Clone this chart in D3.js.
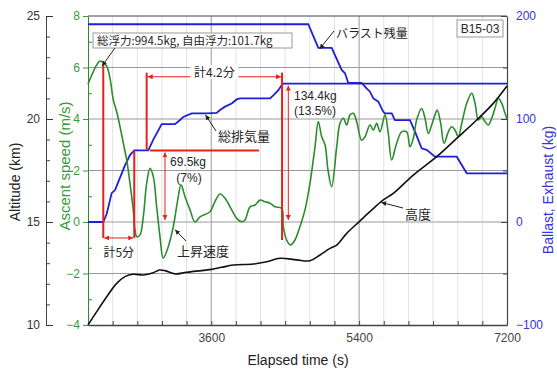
<!DOCTYPE html>
<html>
<head>
<meta charset="utf-8">
<script src="https://cdn.jsdelivr.net/npm/d3@7"></script>
<style>
  body { margin: 0; background: #fff; }
  svg { font-family: Arial, "Liberation Sans", "Noto Sans CJK JP", sans-serif; }
  .jp { font-family: "Noto Sans CJK JP", sans-serif; }
</style>
</head>
<body>
<svg id="chart" width="557" height="369"></svg>
<script>
// Données (B15-03)
const speedTime = [2100, 2145, 2206, 2246, 2286, 2328, 2368, 2408, 2449, 2490, 2530, 2571, 2611, 2651, 2672, 2693,
  2733, 2773, 2814, 2855, 2895, 2936, 2976, 3016, 3077, 3138, 3192, 3232, 3281, 3342, 3402, 3463, 3585, 3646,
  3707, 3768, 3849, 3910, 3971, 4011, 4072, 4133, 4194, 4254, 4315, 4376, 4458, 4477, 4518, 4567, 4619, 4680,
  4741, 4802, 4863, 4903, 4945, 4985, 5022, 5066, 5127, 5167, 5208, 5249, 5289, 5329, 5370, 5430, 5471, 5532,
  5573, 5614, 5654, 5715, 5755, 5796, 5857, 5918, 5979, 6019, 6060, 6100, 6161, 6202, 6242, 6283, 6323, 6351,
  6393, 6433, 6486, 6526, 6567, 6607, 6649, 6710, 6770, 6811, 6851, 6892, 6932, 6973, 7014, 7054, 7095, 7136,
  7176, 7200];
const speedValue = [5.35, 5.7, 6.1, 6.25, 6.19, 6.05, 5.58, 4.74, 4.28, 3.7, 3.06, 2.41, 1.5, 0.47, -0.31, -0.57,
  -0.5, 0.2, 1.5, 2.09, 1.76, 0.59, -0.57, -1.4, -0.96, -0.18, 0.85, 1.44, 0.98, 0.47, 0.0, 0.2, 0.4, 0.8,
  1.09, 0.92, 0.47, 0.14, 0.01, 0.08, 0.59, 0.66, 0.85, 0.79, 0.73, 0.59, 0.53, -0.18, -0.7, -0.89, -0.7, -0.18,
  0.47, 1.5, 2.92, 3.9, 3.31, 3.0, 2.0, 1.37, 2.92, 3.83, 4.03, 3.77, 4.16, 4.22, 3.9, 3.18, 3.31, 3.77,
  3.57, 3.83, 3.5, 4.16, 3.44, 2.41, 3.06, 3.5, 3.5, 2.92, 3.25, 3.96, 4.41, 4.03, 3.44, 3.77, 4.16, 4.35,
  3.83, 3.06, 3.5, 3.7, 3.57, 3.31, 3.83, 4.61, 5.0, 4.61, 3.96, 4.09, 3.9, 3.77, 4.03, 4.42, 4.8, 4.61,
  4.22, 4.0];

const altTime = [2100, 2206, 2328, 2449, 2550, 2651, 2773, 2895, 2968, 3037, 3159, 3301, 3606, 3727, 3869, 4112,
  4275, 4437, 4640, 4802, 4924, 5046, 5127, 5249, 5399, 5532, 5694, 5816, 6060, 6344, 6588, 6831, 7033, 7200];
const altValue = [10.0, 10.65, 11.37, 12.02, 12.35, 12.46, 12.43, 12.54, 12.67, 12.64, 12.48, 12.56, 12.7, 12.8,
  12.91, 12.96, 13.07, 13.24, 13.16, 13.12, 13.4, 13.72, 13.88, 14.45, 15.01, 15.5, 16.07, 16.39, 17.28, 18.17,
  19.06, 19.95, 20.76, 21.6];

const ballastTime = [2100, 4781, 4903, 5066, 5188, 5228, 5268, 5430, 5491, 5532, 5573, 5634, 5694, 5715, 5797,
  5836, 6019, 6080, 6161, 6222, 6323, 6588, 6710, 7200];
const ballastValue = [192, 192, 169, 169, 147.6, 144.4, 135, 135, 129.8, 126.5, 120, 116.8, 107, 105.5, 105.5,
  99, 99, 87.7, 71.5, 70, 63.4, 63.4, 47.3, 47.3];

const exhaustTime = [2100, 2286, 2328, 2388, 2429, 2469, 2550, 2611, 2663, 2834, 2895, 2956, 2997, 3159, 3220,
  3260, 3362, 3544, 3666, 3707, 3768, 3849, 3910, 3950, 4315, 4356, 4417, 4458, 4477, 7200];
const exhaustValue = [0, 0, 8, 28, 31, 39, 55, 65, 69.5, 69.5, 80, 89, 95, 95, 99, 102, 105.5, 105.5, 106, 108.7,
  112, 115, 119, 120, 120, 123, 128, 133, 134.4, 134.4];

const timeMajor = [3600, 5400, 7200];
const altMajor = [10, 15, 20, 25];
const speedMajor = [-4, -2, 0, 2, 4, 6, 8];
const kgMajor = [-100, 0, 100, 200];

const svg = d3.select("#chart");
const margin = { top: 16, right: 50, bottom: 44, left: 88 };
const width = 557, height = 369;
const plotL = margin.left, plotR = width - margin.right, plotT = margin.top, plotB = height - margin.bottom;

const GREEN = "#2c8c2c", GREEN_TXT = "#3a9a3a", BLUE = "#1f1fd8", BLUE_TXT = "#3434dc", RED = "#e8201c";

const x = d3.scaleLinear().domain([2100, 7200]).range([plotL, plotR]);
const yAlt = d3.scaleLinear().domain([10, 25]).range([plotB, plotT]);
const ySpd = d3.scaleLinear().domain([-4, 8]).range([plotB, plotT]);
const yKg = d3.scaleLinear().domain([-100, 200]).range([plotB, plotT]);

// flèches
const defs = svg.append("defs");
[["arRed", RED], ["arBlk", "#222"]].forEach(([id, c]) => {
  defs.append("marker").attr("id", id).attr("viewBox", "0 0 10 10")
    .attr("refX", 10).attr("refY", 5).attr("markerWidth", 5).attr("markerHeight", 5)
    .attr("markerUnits", "userSpaceOnUse").attr("orient", "auto-start-reverse")
    .append("path").attr("d", "M0,0L10,5L0,10z").attr("fill", c);
});

// grille
svg.append("g").selectAll("line").data(d3.range(2400, 7200, 300)).join("line")
  .attr("x1", d => x(d)).attr("x2", d => x(d)).attr("y1", plotT).attr("y2", plotB)
  .attr("stroke", d => d % 1800 === 0 ? "#9a9a9a" : "#e2e2e2").attr("stroke-width", 1);
svg.append("g").selectAll("line").data([-2, 0, 2, 4, 6]).join("line")
  .attr("x1", plotL).attr("x2", plotR).attr("y1", d => ySpd(d)).attr("y2", d => ySpd(d))
  .attr("stroke", "#9a9a9a").attr("stroke-width", 1);
svg.append("line").attr("x1", plotL).attr("x2", plotR).attr("y1", plotT).attr("y2", plotT)
  .attr("stroke", "#444").attr("stroke-width", 1.2);

// axes
function styleAxis(g, color, size) {
  g.attr("font-size", size).attr("font-family", "Arial, 'Liberation Sans', sans-serif");
  g.selectAll("path,line").attr("stroke", color);
  g.selectAll("text").attr("fill", color);
}
// x
svg.append("g").attr("transform", `translate(0,${plotB})`)
  .call(d3.axisBottom(x).tickValues(d3.range(2400, 7201, 300)).tickSizeInner(-4).tickSizeOuter(0)
    .tickPadding(8).tickFormat(d => timeMajor.includes(d) ? d : ""))
  .call(g => styleAxis(g, "#444", 12))
  .call(g => g.select(".domain").attr("stroke-width", 1.6));
// altitude
svg.append("g").attr("transform", "translate(46,0)")
  .call(d3.axisLeft(yAlt).tickValues(d3.range(10, 26, 1)).tickSizeInner(-4).tickSizeOuter(0).tickFormat(""))
  .call(g => styleAxis(g, "#444", 12));
svg.append("g").attr("transform", "translate(46,0)")
  .call(d3.axisLeft(yAlt).tickValues(altMajor).tickSizeInner(-7).tickSizeOuter(0).tickPadding(6))
  .call(g => styleAxis(g, "#333", 12)).call(g => g.select(".domain").remove());
// vitesse
svg.append("g").attr("transform", `translate(${plotL},0)`)
  .call(d3.axisLeft(ySpd).tickValues(d3.range(-3, 8, 2)).tickSizeInner(-4).tickSizeOuter(0).tickFormat(""))
  .call(g => styleAxis(g, GREEN, 12));
svg.append("g").attr("transform", `translate(${plotL},0)`)
  .call(d3.axisLeft(ySpd).tickValues(speedMajor).tickSizeInner(5).tickSizeOuter(0).tickPadding(3))
  .call(g => styleAxis(g, GREEN_TXT, 12)).call(g => g.select(".domain").remove());
// kg
svg.append("g").attr("transform", `translate(${plotR},0)`)
  .call(d3.axisRight(yKg).tickValues([-50, 50, 150]).tickSizeInner(-4).tickSizeOuter(0).tickFormat(""))
  .call(g => styleAxis(g, "#444", 12)).call(g => g.select(".domain").attr("stroke-width", 1.2));
svg.append("g").attr("transform", `translate(${plotR},0)`)
  .call(d3.axisRight(yKg).tickValues(kgMajor).tickSizeInner(-6).tickSizeOuter(0).tickPadding(9))
  .call(g => styleAxis(g, BLUE_TXT, 12)).call(g => g.selectAll("line").attr("stroke", "#444"))
  .call(g => g.select(".domain").remove());

// titres
svg.append("text").attr("transform", "translate(20,182) rotate(-90)").attr("text-anchor", "middle")
  .attr("font-size", 14).attr("fill", "#222").text("Altitude (km)");
svg.append("text").attr("transform", "translate(70,166) rotate(-90)").attr("text-anchor", "middle")
  .attr("font-size", 15).attr("fill", GREEN_TXT).text("Ascent speed (m/s)");
svg.append("text").attr("transform", "translate(553,190) rotate(-90)").attr("text-anchor", "middle")
  .attr("font-size", 14).attr("fill", BLUE_TXT).text("Ballast, Exhaust (kg)");
svg.append("text").attr("x", 298).attr("y", 365).attr("text-anchor", "middle")
  .attr("font-size", 14).attr("fill", "#222").text("Elapsed time (s)");

// courbes
const zip = (ts, vs) => ts.map((t, i) => [t, vs[i]]);
const lineKg = d3.line().x(d => x(d[0])).y(d => yKg(d[1]));
svg.append("path").datum(zip(ballastTime, ballastValue)).attr("d", lineKg)
  .attr("fill", "none").attr("stroke", BLUE).attr("stroke-width", 1.8);
svg.append("path").datum(zip(exhaustTime, exhaustValue)).attr("d", lineKg)
  .attr("fill", "none").attr("stroke", BLUE).attr("stroke-width", 1.8);
svg.append("path").datum(zip(speedTime, speedValue))
  .attr("d", d3.line().x(d => x(d[0])).y(d => ySpd(d[1])).curve(d3.curveCatmullRom))
  .attr("fill", "none").attr("stroke", GREEN).attr("stroke-width", 1.6);
svg.append("path").datum(zip(altTime, altValue))
  .attr("d", d3.line().x(d => x(d[0])).y(d => yAlt(d[1])).curve(d3.curveCatmullRom))
  .attr("fill", "none").attr("stroke", "#111").attr("stroke-width", 1.6);

// annotations rouges
const ann = svg.append("g");
function seg(x1, y1, x2, y2, w, arrows) {
  const l = ann.append("line").attr("x1", x1).attr("y1", y1).attr("x2", x2).attr("y2", y2)
    .attr("stroke", RED).attr("stroke-width", w);
  if (arrows) l.attr("marker-start", "url(#arRed)").attr("marker-end", "url(#arRed)");
}
const tPeak = 2286, tLow = 2663, tOpen = 2814, tClose = 4462;
const sBase = -0.62;
seg(x(tPeak), ySpd(6.1), x(tPeak), ySpd(sBase), 2);
seg(x(tLow), yKg(69.5), x(tLow), ySpd(sBase), 2);
seg(x(tPeak) + 1, ySpd(sBase), x(tLow) - 1, ySpd(sBase), 1, true);
seg(x(tOpen), ySpd(5.8), x(tOpen), yKg(69.5), 2);
seg(x(tClose), ySpd(5.8), x(tClose), ySpd(-0.7), 2);
seg(x(tOpen) + 1, ySpd(5.64), x(tClose) - 1, ySpd(5.64), 1, true);
seg(x(2855), yKg(69.5), x(4181), yKg(69.5), 2);
seg(x(3037), yKg(69.5) + 2, x(3037), yKg(0) - 2, 1, true);
seg(x(4538), yKg(134.4) + 2, x(4538), yKg(0) - 2, 1, true);

// textes
const TXT = "#262626";
function label(px, py, s, size, anchor) {
  return svg.append("text").attr("class", "jp").attr("x", px).attr("y", py).attr("font-size", size)
    .attr("text-anchor", anchor || "start").attr("fill", TXT).text(s);
}
function num(px, py, s, anchor) {
  return svg.append("text").attr("x", px).attr("y", py).attr("font-size", 12)
    .attr("text-anchor", anchor || "start").attr("fill", TXT).text(s);
}
function pointer(x1, y1, x2, y2) {
  svg.append("line").attr("x1", x1).attr("y1", y1).attr("x2", x2).attr("y2", y2)
    .attr("stroke", "#222").attr("stroke-width", 1).attr("marker-end", "url(#arBlk)");
}
svg.append("rect").attr("x", (x(tOpen) + x(tClose)) / 2 - 24).attr("y", 65).attr("width", 48).attr("height", 14)
  .attr("fill", "#fff");
label((x(tOpen) + x(tClose)) / 2, 77, "計4.2分", 12, "middle");
label((x(tPeak) + x(tLow)) / 2, 257, "計5分", 12, "middle");
num(170, 166, "69.5kg");
num(189, 182, "(7%)", "middle");
num(294, 100, "134.4kg");
num(294, 115, "(13.5%)");

svg.append("rect").attr("x", 93).attr("y", 33).attr("width", 199).attr("height", 15)
  .attr("fill", "#fff").attr("stroke", "#999");
label(97, 45, "総浮力:994.5kg, 自由浮力:101.7kg", 11.5);
pointer(115, 48, x(2270), ySpd(6.1) + 1);

svg.append("rect").attr("x", 457).attr("y", 20).attr("width", 46).attr("height", 17)
  .attr("fill", "#fff").attr("stroke", "#999");
num(480, 33, "B15-03", "middle");

label(336, 38, "バラスト残量", 12);
pointer(334, 31, x(4920), yKg(170) + 2);
label(218, 141, "総排気量", 13);
pointer(216, 131, x(3530), yKg(104));
label(177, 256, "上昇速度", 13);
pointer(186, 241, x(3160), ySpd(-0.3));
label(405, 219, "高度", 13);
pointer(403, 208, x(5670), yAlt(16.0) + 1);
</script>
</body>
</html>
